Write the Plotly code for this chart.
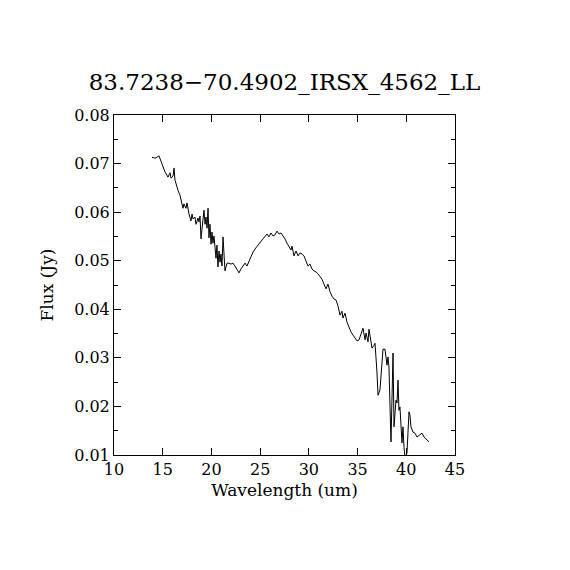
import plotly.graph_objects as go

# spectrum
wavelength = [
    13.90, 14.21, 14.41, 14.62, 14.82, 15.03, 15.23, 15.44, 15.54, 15.75,
    15.85, 16.06, 16.16, 16.26, 16.36, 16.57, 16.77, 16.88, 17.08, 17.18,
    17.39, 17.49, 17.60, 17.70, 17.90, 18.01, 18.11, 18.31, 18.42, 18.62,
    18.72, 18.83, 18.93, 19.03, 19.13, 19.24, 19.34, 19.44, 19.55, 19.65,
    19.75, 19.85, 19.96, 20.06, 20.16, 20.26, 20.37, 20.47, 20.57, 20.67,
    20.78, 20.88, 20.98, 21.08, 21.19, 21.29, 21.39, 21.60, 21.80, 22.01,
    22.21, 22.42, 22.62, 22.83, 23.03, 23.24, 23.45, 23.65, 23.86, 24.06,
    24.27, 24.47, 24.68, 24.88, 25.09, 25.29, 25.50, 25.70, 25.91, 26.11,
    26.32, 26.52, 26.73, 26.94, 27.14, 27.35, 27.55, 27.76, 27.96, 28.17,
    28.27, 28.47, 28.68, 28.89, 29.09, 29.30, 29.50, 29.71, 29.91, 30.12,
    30.32, 30.53, 30.73, 30.94, 31.14, 31.35, 31.55, 31.76, 31.96, 32.17,
    32.38, 32.58, 32.79, 32.99, 33.20, 33.40, 33.50, 33.71, 33.91, 34.12,
    34.33, 34.53, 34.74, 34.94, 35.15, 35.35, 35.56, 35.77, 35.87, 36.07,
    36.17, 36.38, 36.48, 36.69, 36.79, 36.99, 37.10, 37.30, 37.51, 37.61,
    37.81, 38.02, 38.12, 38.22, 38.43, 38.53, 38.64, 38.74, 38.94, 39.05,
    39.15, 39.25, 39.35, 39.56, 39.66, 39.77, 39.87, 40.07, 40.18, 40.28,
    40.38, 40.48, 40.69, 40.89, 41.10, 41.31, 41.61, 41.82, 42.13, 42.33,
]
flux = [
    0.0713, 0.0711, 0.0713, 0.0716, 0.0705, 0.0693, 0.0683, 0.0676, 0.0672, 0.0681,
    0.0670, 0.0674, 0.0691, 0.0666, 0.0658, 0.0645, 0.0635, 0.0627, 0.0608, 0.0617,
    0.0608, 0.0619, 0.0606, 0.0596, 0.0582, 0.0596, 0.0586, 0.0590, 0.0575, 0.0588,
    0.0580, 0.0592, 0.0545, 0.0575, 0.0584, 0.0604, 0.0575, 0.0590, 0.0567, 0.0608,
    0.0547, 0.0575, 0.0534, 0.0559, 0.0536, 0.0551, 0.0518, 0.0505, 0.0532, 0.0487,
    0.0520, 0.0497, 0.0514, 0.0489, 0.0549, 0.0497, 0.0479, 0.0495, 0.0495, 0.0493,
    0.0495, 0.0489, 0.0483, 0.0475, 0.0483, 0.0489, 0.0495, 0.0489, 0.0499, 0.0508,
    0.0518, 0.0524, 0.0530, 0.0536, 0.0540, 0.0545, 0.0551, 0.0555, 0.0549, 0.0557,
    0.0551, 0.0553, 0.0561, 0.0555, 0.0557, 0.0551, 0.0545, 0.0536, 0.0528, 0.0522,
    0.0530, 0.0510, 0.0520, 0.0510, 0.0516, 0.0514, 0.0510, 0.0497, 0.0489, 0.0493,
    0.0483, 0.0479, 0.0477, 0.0473, 0.0468, 0.0462, 0.0452, 0.0442, 0.0452, 0.0436,
    0.0427, 0.0421, 0.0419, 0.0407, 0.0388, 0.0396, 0.0382, 0.0392, 0.0374, 0.0361,
    0.0353, 0.0347, 0.0341, 0.0335, 0.0337, 0.0351, 0.0361, 0.0337, 0.0351, 0.0333,
    0.0359, 0.0333, 0.0320, 0.0326, 0.0330, 0.0271, 0.0223, 0.0234, 0.0281, 0.0318,
    0.0318, 0.0285, 0.0302, 0.0281, 0.0127, 0.0219, 0.0310, 0.0158, 0.0213, 0.0207,
    0.0254, 0.0192, 0.0199, 0.0125, 0.0158, 0.0116, 0.0094, 0.0104, 0.0158, 0.0189,
    0.0182, 0.0158, 0.0147, 0.0145, 0.0137, 0.0141, 0.0145, 0.0137, 0.0131, 0.0127,
]

x_ticks = [10, 15, 20, 25, 30, 35, 40, 45]
y_ticks = [0.01, 0.02, 0.03, 0.04, 0.05, 0.06, 0.07, 0.08]

FONT = "DejaVu Serif"

fig = go.Figure()
fig.add_trace(go.Scatter(
    x=wavelength, y=flux, mode="lines",
    line=dict(color="black", width=1),
    showlegend=False,
))

axis_style = dict(
    showline=True, linecolor="black", linewidth=1, mirror="ticks",
    ticks="inside", ticklen=7, tickcolor="black", tickwidth=1,
    showgrid=False, zeroline=False,
    tickfont=dict(family=FONT, size=16, color="black"),
)

fig.update_xaxes(
    range=[10, 45], tickvals=x_ticks,
    title=dict(text="Wavelength (um)", font=dict(family=FONT, size=17, color="black"), standoff=5),
    **axis_style,
)
fig.update_yaxes(
    range=[0.01, 0.08], tickvals=y_ticks, tickformat=".2f",
    minor=dict(ticks="inside", ticklen=4, tickcolor="black", dtick=0.005, tick0=0.01),
    title=dict(text="Flux (Jy)", font=dict(family=FONT, size=17, color="black"), standoff=16),
    **axis_style,
)

# the page body adds an 8px offset, so margins are shifted to keep the box in place
fig.update_layout(
    width=570, height=570,
    margin=dict(l=106, r=123, t=107, b=123),
    paper_bgcolor="white", plot_bgcolor="white",
    title=dict(text="83.7238\u221270.4902_IRSX_4562_LL", x=0.5, xref="paper", xanchor="center",
               y=1 - 74 / 570, yanchor="middle",
               font=dict(family=FONT, size=23, color="black")),
)

fig.write_html("out.html")
